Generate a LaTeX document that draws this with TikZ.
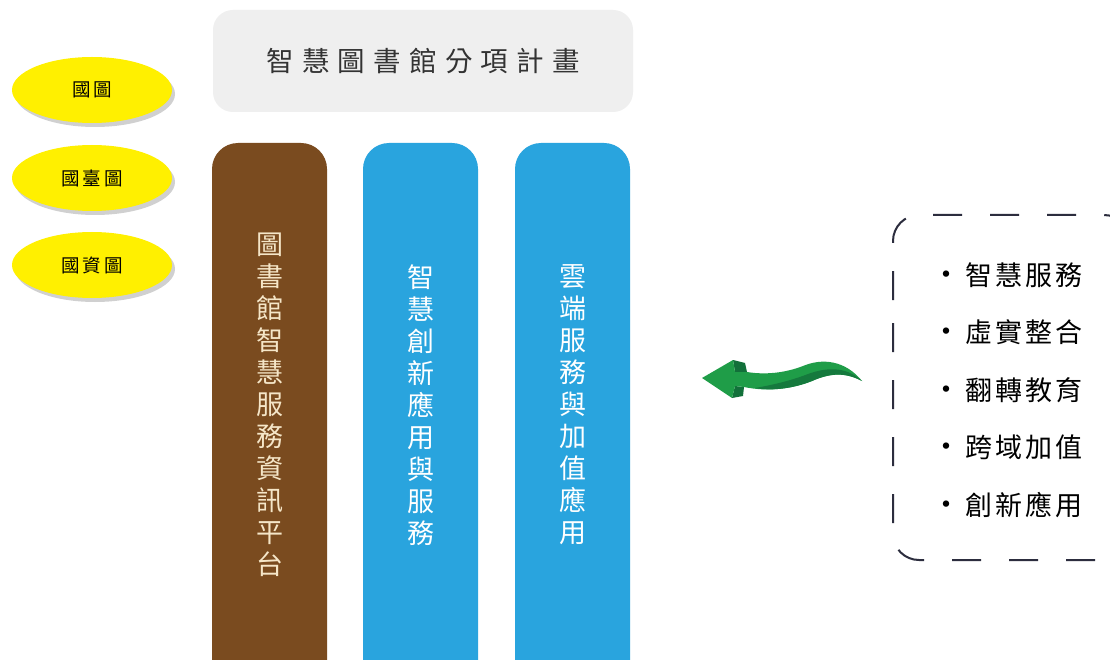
\documentclass[tikz,border=0pt]{standalone}
\usepackage{fontspec}
\setmainfont{Noto Sans CJK TC}
\newfontfamily\cjkls[LetterSpace=30]{Noto Sans CJK TC}
\newfontfamily\cjklsb[LetterSpace=12]{Noto Sans CJK TC}
\newfontfamily\cjklse[LetterSpace=15]{Noto Sans CJK TC}
\usetikzlibrary{shapes.geometric,shadows}
\definecolor{graybox}{HTML}{EFEFEF}
\definecolor{colbrown}{HTML}{7A4B1F}
\definecolor{colblue}{HTML}{29A4DE}
\definecolor{ellyellow}{HTML}{FFF000}
\definecolor{arrgreen}{HTML}{1F9D48}
\definecolor{arrdark}{HTML}{12703A}
\definecolor{dashcol}{HTML}{2C2D3E}
\definecolor{cream}{HTML}{F5E6C8}
\definecolor{titletext}{HTML}{333333}
\tikzset{
  titlebox/.style={rectangle, rounded corners=20pt, fill=graybox, minimum width=420pt, minimum height=102pt, text=titletext, font={\cjkls\fontsize{27.5pt}{32pt}\selectfont}},
  colbox/.style={rectangle, rounded corners=26pt, minimum width=115pt, minimum height=560pt},
  coltext/.style={align=center, inner sep=0pt, font={\fontsize{27pt}{32pt}\selectfont}},
  ell/.style={ellipse, fill=ellyellow, minimum width=160pt, minimum height=66pt, inner sep=0pt, font={\cjklse\fontsize{18.5pt}{20pt}\selectfont}, drop shadow={shadow xshift=3pt, shadow yshift=-4pt, opacity=0.3, fill=black!60}},
  listbox/.style={rectangle, inner sep=0pt, align=left, font={\cjklsb\fontsize{27pt}{57.5pt}\selectfont}},
  dline/.style={draw=dashcol, line width=2pt, rounded corners=26pt, dash pattern=on 29pt off 28pt},
}
\newcommand{\bul}{{\fontsize{30pt}{30pt}\selectfont •}\hspace{4pt}}
\begin{document}
\begin{tikzpicture}[x=1pt,y=-1pt]
\useasboundingbox (0,0) rectangle (1110,660);
\clip (0,0) rectangle (1110,660);
\fill[white] (0,0) rectangle (1110,660);
% title
\node[titlebox] (title) at (423,61) {智慧圖書館分項計畫};
% ellipses
\node[ell] (e1) at (92,90) {國圖};
\node[ell] (e2) at (92,178) {國臺圖};
\node[ell] (e3) at (92,265) {國資圖};
% columns
\node[colbox, fill=colbrown] (c1) at (269.5,423) {};
\node[colbox, fill=colblue] (c2) at (420.5,423) {};
\node[colbox, fill=colblue] (c3) at (572.5,423) {};
\node[coltext, text=cream] (t1) at (269.5,405) {圖\\書\\館\\智\\慧\\服\\務\\資\\訊\\平\\台};
\node[coltext, text=white] (t2) at (420.5,405) {智\\慧\\創\\新\\應\\用\\與\\服\\務};
\node[coltext, text=white] (t3) at (572.5,405) {雲\\端\\服\\務\\與\\加\\值\\應\\用};
% dashed list
\node[listbox, anchor=west] (list) at (931,390) {\bul 智慧服務\\\bul 虛實整合\\\bul 翻轉教育\\\bul 跨域加值\\\bul 創新應用};
\draw[dline] (893,300) -- (893,215) -- (1130,215) -- (1130,400);
\draw[dline, dash phase=34] (893,300) -- (893,560) -- (1130,560) -- (1130,400);
% green arrow
\coordinate (tail) at (862,381);
\coordinate (tip) at (702,378);
\fill[arrdark] (733,360) -- (745,363) -- (747,372) -- (735,372) -- cycle;
\fill[arrdark] (735,386) -- (744,387) -- (743,396) -- (732,398) -- cycle;
\fill[arrgreen] (tip) -- (733,360) -- (735,372) -- (747,372)
  .. controls (765,375) and (785,373) .. (803,366)
  .. controls (822,358) and (845,360) .. (tail)
  .. controls (845,372) and (830,373) .. (812,381)
  .. controls (792,389) and (768,392) .. (744,387)
  -- (735,386) -- (732,398) -- cycle;
\fill[arrdark!80!arrgreen] (tail)
  .. controls (845,372) and (830,373) .. (812,381)
  .. controls (792,389) and (770,391) .. (755,388)
  .. controls (772,385) and (790,381) .. (808,374)
  .. controls (830,366) and (848,368) .. cycle;
\end{tikzpicture}
\end{document}
